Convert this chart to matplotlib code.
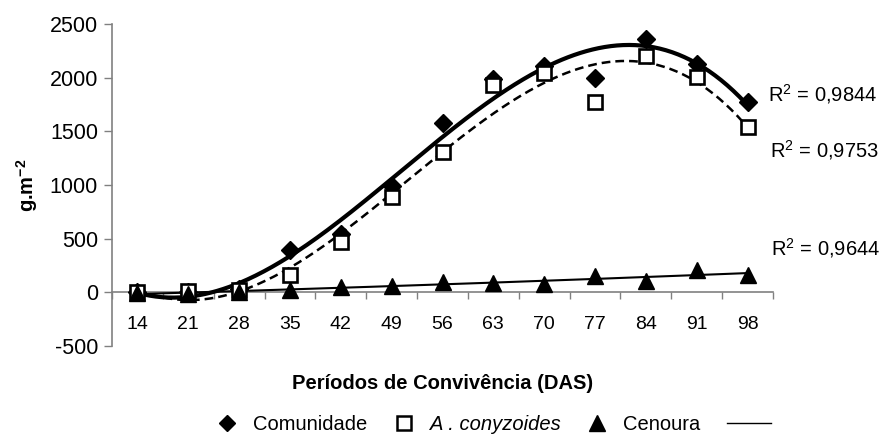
import numpy as np
import matplotlib
matplotlib.use('Agg')
import matplotlib.pyplot as plt
from matplotlib.lines import Line2D
from matplotlib.legend_handler import HandlerLine2D

plt.rcParams['font.family'] = ['Liberation Sans', 'DejaVu Sans']
plt.rcParams['mathtext.fontset'] = 'custom'
plt.rcParams['mathtext.rm'] = 'Liberation Sans'
plt.rcParams['mathtext.it'] = 'Liberation Sans:italic'
plt.rcParams['mathtext.bf'] = 'Liberation Sans:bold'
plt.rcParams['axes.unicode_minus'] = False

# dados
dias = [14, 21, 28, 35, 42, 49, 56, 63, 70, 77, 84, 91, 98]
comunidade = [0, 0, 30, 390, 540, 990, 1580, 1990, 2110, 2000, 2360, 2130, 1770]
conyzoides = [0, 10, 20, 160, 470, 890, 1310, 1930, 2040, 1770, 2200, 2010, 1540]
cenoura = [-5, -15, 5, 25, 48, 60, 93, 84, 80, 150, 110, 205, 160]
r2 = ['0,9844', '0,9753', '0,9644']

cinza = '#808080'
fs = 14.5

fig = plt.figure(figsize=(8.86, 4.45), dpi=100)
ax = fig.add_axes([0.1264, 0.2225, 0.7461, 0.7236])

x = np.arange(len(dias))
xx = np.linspace(0, len(dias) - 1, 300)

# linhas de tendencia polinomiais, como no Excel
p1 = np.polyfit(x, comunidade, 3)
p2 = np.polyfit(x, conyzoides, 3)
p3 = np.polyfit(x, cenoura, 2)
ax.plot(xx, np.polyval(p1, xx), color='black', lw=3.0, zorder=3)
ax.plot(xx, np.polyval(p2, xx), color='black', lw=1.8, ls=(0, (3.5, 2)), zorder=3)
ax.plot(xx, np.polyval(p3, xx), color='black', lw=1.5, zorder=3)

ax.plot(x, comunidade, 'D', color='black', ms=9, ls='none', zorder=4)
ax.plot(x, conyzoides, 's', mfc='white', mec='black', mew=1.9, ms=10, ls='none', zorder=4)
ax.plot(x, cenoura, '^', color='black', ms=12, ls='none', zorder=4)

ax.set_xlim(-0.5, len(dias) - 0.5)
ax.set_ylim(-500, 2500)
ax.set_yticks(range(-500, 2501, 500))
ax.set_xticks(x)
ax.set_xticklabels([str(d) for d in dias])
ax.set_xticks(np.arange(-0.5, len(dias), 1), minor=True)
ax.tick_params(axis='x', which='major', length=0, pad=17, labelsize=14)
ax.tick_params(axis='x', which='minor', length=5, direction='out', color=cinza, width=1)
ax.tick_params(axis='y', length=6, direction='out', color=cinza, width=1, labelsize=15.5, pad=4)

for s in ['top', 'right']:
    ax.spines[s].set_visible(False)
ax.spines['bottom'].set_position(('data', 0))
ax.spines['bottom'].set_color(cinza)
ax.spines['left'].set_color(cinza)
ax.spines['bottom'].set_linewidth(1.2)
ax.spines['left'].set_linewidth(1.2)

ax.set_xlabel('Períodos de Convivência (DAS)', fontsize=fs, fontweight='bold', va='center')
ax.xaxis.set_label_coords(0.5, -0.118)
ax.set_ylabel(r'g.m$^{\mathbf{-2}}$', fontsize=fs, fontweight='bold', va='center')
ax.yaxis.set_label_coords(-0.128, 0.5)

pos_r2 = [(0.993, 0.783), (0.996, 0.609), (0.997, 0.304)]
for (px, py), t in zip(pos_r2, r2):
    ax.text(px, py, 'R$^{2}$ = ' + t, transform=ax.transAxes, fontsize=fs,
            va='center', ha='left', clip_on=False)


class LinhaLonga(HandlerLine2D):
    def create_artists(self, legend, orig_handle, xdescent, ydescent, width, height, fontsize, trans):
        return super().create_artists(legend, orig_handle, xdescent, ydescent, width * 2.2,
                                      height, fontsize, trans)


h1 = Line2D([], [], marker='D', color='black', ls='none', ms=8)
h2 = Line2D([], [], marker='s', mfc='white', mec='black', mew=1.8, ls='none', ms=10)
h3 = Line2D([], [], marker='^', color='black', ls='none', ms=11)
h4 = Line2D([], [], color='black', lw=1)
leg = fig.legend([h1, h2, h3, h4], ['Comunidade', 'A . conyzoides', 'Cenoura', ''],
                 loc='center', bbox_to_anchor=(0.553, 0.045), ncol=4, frameon=False,
                 fontsize=fs, handlelength=1.0, handletextpad=0.8, columnspacing=1.3,
                 handler_map={h4: LinhaLonga()})
leg.get_texts()[1].set_fontstyle('italic')

fig.savefig('out.png', dpi=100)
